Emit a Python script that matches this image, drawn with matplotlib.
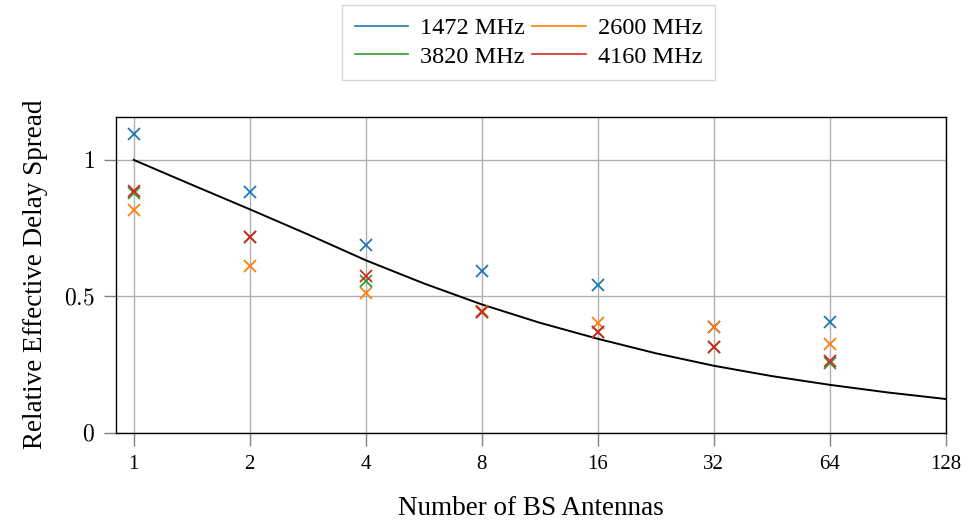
import matplotlib
matplotlib.use("Agg")
import matplotlib.pyplot as plt
from matplotlib.lines import Line2D
from matplotlib.ticker import FixedLocator, FixedFormatter

plt.rcParams['font.family'] = ['Liberation Serif', 'DejaVu Serif']
plt.rcParams['mathtext.fontset'] = 'cm'

antennas = [1, 2, 4, 8, 16, 32, 64]
delay_1472 = [1.096, 0.884, 0.688, 0.593, 0.541, 0.387, 0.405]
delay_2600 = [0.816, 0.611, 0.513, 0.445, 0.400, 0.388, 0.326]
delay_3820 = [0.877, 0.718, 0.557, 0.442, 0.368, 0.315, 0.254]
delay_4160 = [0.886, 0.718, 0.574, 0.442, 0.368, 0.315, 0.264]

# reference curve (black line), read at half-octave steps
curve_n = [1, 1.414, 2, 2.83, 4, 5.66, 8, 11.3, 16, 22.6, 32, 45.3, 64, 90.5, 128]
curve_val = [1.0, 0.909, 0.819, 0.727, 0.632, 0.547, 0.470, 0.403, 0.344,
             0.291, 0.245, 0.207, 0.175, 0.147, 0.123]

labels = ["1472 MHz", "2600 MHz", "3820 MHz", "4160 MHz"]
colors = ["tab:blue", "tab:orange", "tab:green", "tab:red"]
series = [delay_1472, delay_2600, delay_3820, delay_4160]

fig = plt.figure(figsize=(9.68, 5.27), dpi=100)
ax = fig.add_axes([0.1198, 0.1793, 0.857, 0.599])

ax.grid(True, color="#b0b0b0", linewidth=1.0, zorder=0)
ax.plot(curve_n, curve_val, color="black", linewidth=1.4, zorder=2)
for vals, c in zip(series, colors):
    ax.plot(antennas, vals, linestyle="none", marker="x", markersize=8,
            markeredgewidth=1.3, color=c, zorder=3)

ax.set_xscale("log", base=2)
ax.set_xlim(2 ** -0.153, 128)
ax.set_ylim(0, 1.158)

xt = [1, 2, 4, 8, 16, 32, 64, 128]
ax.xaxis.set_major_locator(FixedLocator(xt))
ax.xaxis.set_major_formatter(FixedFormatter([str(v) for v in xt]))
ax.xaxis.set_minor_locator(FixedLocator([]))
ax.set_yticks([0, 0.5, 1])
ax.set_yticklabels([r"$0$", r"$0.5$", r"$1$"])

ax.tick_params(axis="x", direction="out", length=9, width=1, color="#808080",
               labelsize=15, pad=7)
ax.tick_params(axis="y", direction="out", length=9, width=1, color="#808080",
               labelsize=17, pad=6)
for s in ax.spines.values():
    s.set_color("black")
    s.set_linewidth(1.0)

ax.set_xlabel("Number of BS Antennas", fontsize=19.5, labelpad=16)
ax.set_ylabel("Relative Effective Delay Spread", fontsize=19.5, labelpad=12)

handles = [Line2D([0], [0], color=c, linewidth=1.2) for c in colors]
order = [0, 2, 1, 3]
fig.legend([handles[i] for i in order], [labels[i] for i in order],
           loc="upper center", bbox_to_anchor=(0.546, 0.99), ncol=2,
           fontsize=17.5, frameon=True, fancybox=False, edgecolor="#cccccc",
           handlelength=2.2, columnspacing=0.3, handletextpad=0.5,
           labelspacing=0.25, borderpad=0.5, borderaxespad=0.0)

fig.savefig("out.png", dpi=100)
